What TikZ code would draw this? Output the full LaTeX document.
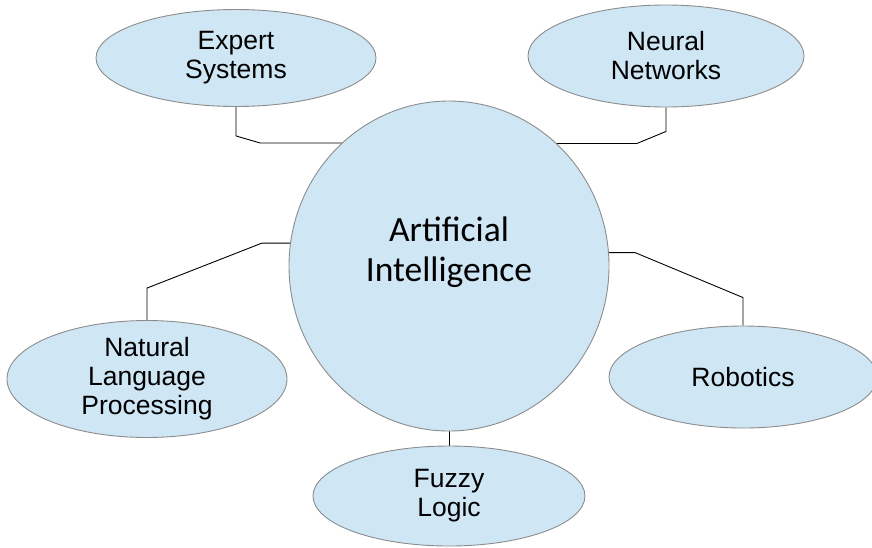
\documentclass[tikz,border=0pt]{standalone}
\usepackage{fontspec}
\setmainfont{Liberation Sans}
\newfontfamily\centrefont{Carlito}
\usepackage{tikz}
\usetikzlibrary{shapes.geometric,positioning,backgrounds}
\definecolor{bubble}{RGB}{207,230,244}
\definecolor{rim}{RGB}{140,140,140}

\begin{document}
\begin{tikzpicture}[x=1pt, y=1pt,
                    topic/.style={ellipse, draw=rim, fill=bubble, line width=0.9pt, inner sep=0pt,
                                  align=center, font=\fontsize{26.5}{29}\selectfont},
                    core/.style={topic, minimum width=320pt, minimum height=330pt},
                    coretext/.style={align=center, yshift=14pt,
                                     font=\centrefont\fontsize{35.5}{40}\selectfont},
                    link/.style={black, line width=0.9pt},
                   ]

\useasboundingbox (0,0) rectangle (872,-547);

\node[core, label={[coretext]center:Artificial\\Intelligence}] (ai) at (449,-266) {};

\node[topic, minimum width=280pt, minimum height=97pt]  (es)  at (236,-58)  {Expert\\Systems};
\node[topic, minimum width=276pt, minimum height=102pt] (nn)  at (666,-56)  {Neural\\Networks};
\node[topic, minimum width=280pt, minimum height=98pt]  (nlp) at (147,-379) {Natural\\Language\\Processing};
\node[topic, minimum width=268pt, minimum height=102pt] (rob) at (743,-377) {Robotics};
\node[topic, minimum width=272pt, minimum height=100pt] (fl)  at (449,-496) {Fuzzy\\Logic};

% links run under the big circle
\begin{scope}[on background layer]
\draw[link] (es.south) -- ++(0,-29) -- ++(24,-7) -- ++(120,0);
\draw[link] (nn.south) -- ++(0,-24) -- ++(-29,-12) -- ++(-120,0);
\draw[link] (nlp.north) -- ++(0,32) -- ++(115,45) -- ++(60,0);
\draw[link] (rob.north) -- ++(0,28) -- ++(-108,45) -- ++(-60,0);
\draw[link] (ai.south) -- (fl.north);
\end{scope}

\end{tikzpicture}
\end{document}
